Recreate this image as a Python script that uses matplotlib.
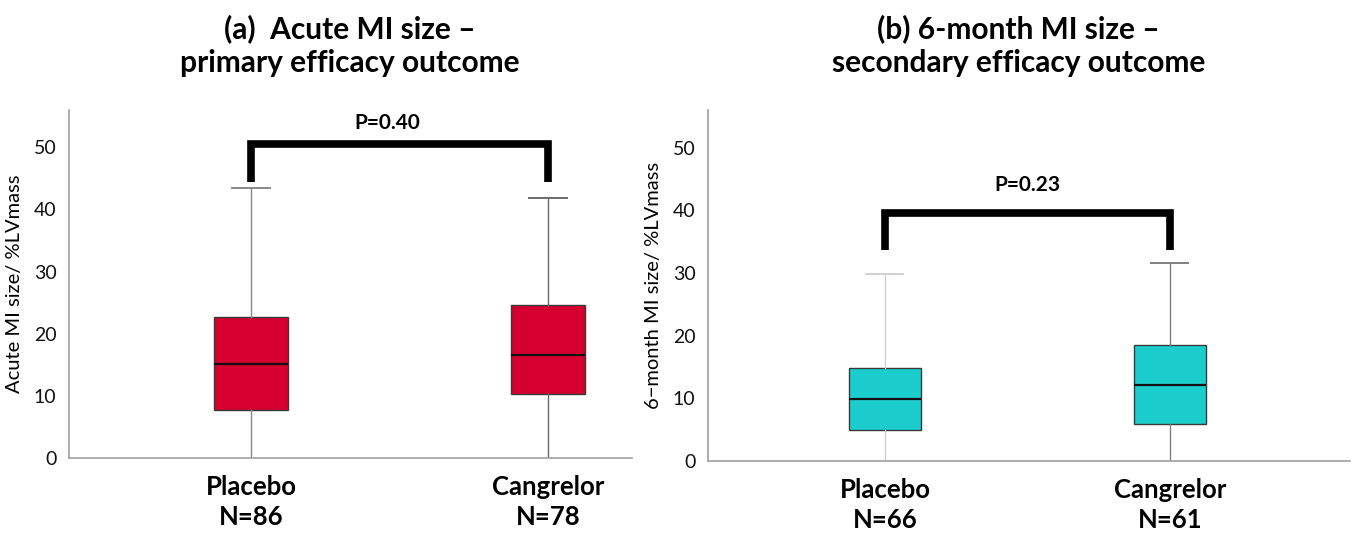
import matplotlib
matplotlib.use("Agg")
from matplotlib import pyplot as plt

plt.rcParams["font.family"] = ["Lato", "DejaVu Sans"]

# data
groups = ["Placebo", "Cangrelor"]

acute_n = [86, 78]
acute_q1 = [7.7, 10.3]
acute_med = [15.1, 16.6]
acute_q3 = [22.7, 24.6]
acute_lo = [0.0, 0.0]
acute_hi = [43.4, 41.8]
acute_p = "P=0.40"
acute_bracket = [44.4, 50.6]

six_n = [66, 61]
six_q1 = [5.0, 5.9]
six_med = [9.9, 12.1]
six_q3 = [14.9, 18.5]
six_lo = [0.0, 0.0]
six_hi = [29.9, 31.6]
six_p = "P=0.23"
six_bracket = [33.7, 39.6]

yticks = [0, 10, 20, 30, 40, 50]

RED = "#d5002f"
TEAL = "#1ccdcd"
SPINE = "#a0a0a0"


def make_stats(q1, med, q3, lo, hi):
    return [dict(q1=a, med=b, q3=c, whislo=d, whishi=e, fliers=[])
            for a, b, c, d, e in zip(q1, med, q3, lo, hi)]


def draw_panel(ax, stats, n, color, p, bracket, ylabel, whisk_cols, xlim, ptext_at):
    res = ax.bxp(stats, positions=[0, 1], widths=0.25, capwidths=0.13,
                 patch_artist=True, showfliers=False,
                 boxprops=dict(facecolor=color, edgecolor="#3a3a3a", linewidth=1.0),
                 medianprops=dict(color="#111111", linewidth=1.6),
                 whiskerprops=dict(color="#808080", linewidth=1.0),
                 capprops=dict(color="#909090", linewidth=1.4))
    for i, c in enumerate(whisk_cols):
        for w in res["whiskers"][2 * i:2 * i + 2]:
            w.set_color(c)
        res["caps"][2 * i + 1].set_color(c)
        res["caps"][2 * i].set_visible(False)   # lower cap sits on the axis

    lo, hi = bracket
    ax.plot([0, 0, 1, 1], [lo, hi, hi, lo], color="black", lw=5.5,
            solid_joinstyle="miter", solid_capstyle="butt", clip_on=False)
    ax.text(ptext_at[0], hi + ptext_at[1], p, ha="center", va="center",
            fontsize=15, fontweight="bold")

    ax.set_xlim(*xlim)
    ax.set_ylim(0, 56)
    ax.set_yticks(yticks)
    ax.set_yticklabels([str(t) for t in yticks], fontsize=14, color="#111111")
    ax.tick_params(axis="y", length=0, pad=9)
    ax.tick_params(axis="x", length=0, pad=12)
    ax.set_xticks([0, 1])
    ax.set_xticklabels([f"{g}\nN={k}" for g, k in zip(groups, n)],
                       fontsize=18.5, fontweight="bold", linespacing=1.3)
    ax.set_ylabel(ylabel, fontsize=14.5, labelpad=8)
    for s in ["top", "right"]:
        ax.spines[s].set_visible(False)
    for s in ["left", "bottom"]:
        ax.spines[s].set_color(SPINE)
        ax.spines[s].set_linewidth(1.2)


fig = plt.figure(figsize=(13.56, 5.38), dpi=100)
ax1 = fig.add_axes([0.0509, 0.1487, 0.4152, 0.6468])
ax2 = fig.add_axes([0.5221, 0.1431, 0.4735, 0.6524])

draw_panel(ax1, make_stats(acute_q1, acute_med, acute_q3, acute_lo, acute_hi),
           acute_n, RED, acute_p, acute_bracket, "Acute MI size/ %LVmass",
           ["#8a8a8a", "#6a6a6a"], (-0.613, 1.283), (0.46, 3.3))
draw_panel(ax2, make_stats(six_q1, six_med, six_q3, six_lo, six_hi),
           six_n, TEAL, six_p, six_bracket, "6\u2212month MI size/ %LVmass",
           ["#d0d0d0", "#808080"], (-0.621, 1.632), (0.50, 4.5))

fig.text(0.258, 0.916, "(a)  Acute MI size \u2013\nprimary efficacy outcome",
         ha="center", va="center", fontsize=21.5, fontweight="bold", linespacing=1.25)
fig.text(0.751, 0.916, "(b) 6-month MI size \u2013\nsecondary efficacy outcome",
         ha="center", va="center", fontsize=21.5, fontweight="bold", linespacing=1.25)

fig.savefig("out.png", dpi=100)
